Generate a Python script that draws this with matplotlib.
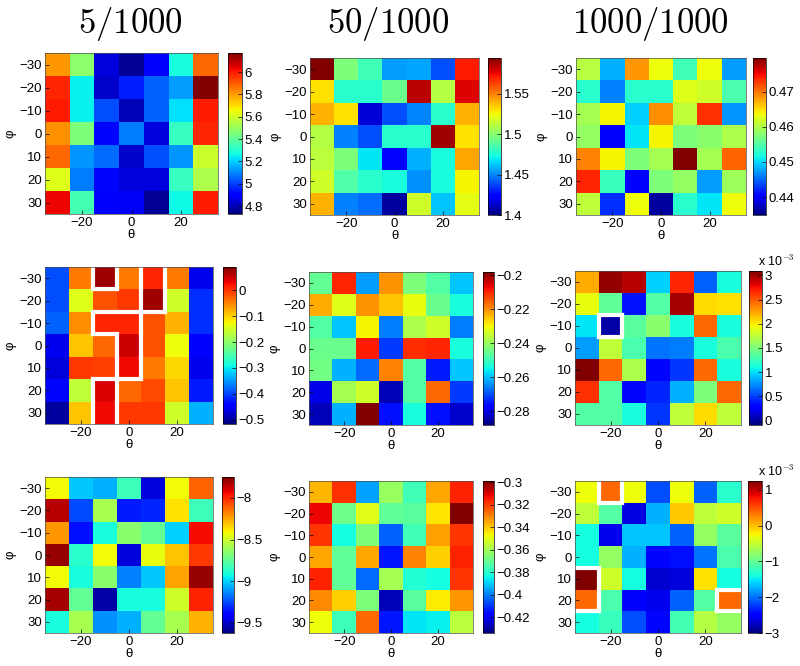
import numpy as np
import matplotlib
matplotlib.use("Agg")
import matplotlib.pyplot as plt

plt.rcParams['font.family'] = ['Liberation Sans', 'DejaVu Sans']
plt.rcParams['mathtext.fontset'] = 'cm'

# grid of angles (cell centres)
theta = [-30, -20, -10, 0, 10, 20, 30]
phi = [-30, -20, -10, 0, 10, 20, 30]
col_titles = ["5/1000", "50/1000", "1000/1000"]

# values, rows = phi (top -30), cols = theta
p1 = [[5.81, 5.48, 4.85, 4.76, 4.90, 5.28, 5.88],
      [5.98, 5.25, 4.83, 4.95, 5.05, 5.13, 6.17],
      [6.00, 5.25, 5.02, 4.80, 5.05, 5.23, 6.00],
      [5.82, 5.45, 4.92, 5.09, 4.85, 5.33, 5.98],
      [5.88, 5.12, 5.06, 4.83, 5.02, 5.12, 5.59],
      [5.62, 5.09, 4.92, 4.85, 4.85, 5.33, 5.54],
      [6.03, 5.35, 4.90, 4.88, 4.76, 5.26, 6.00]]
p2 = [[1.594, 1.497, 1.483, 1.454, 1.456, 1.439, 1.571],
      [1.530, 1.478, 1.478, 1.493, 1.584, 1.510, 1.578],
      [1.540, 1.530, 1.415, 1.439, 1.450, 1.478, 1.540],
      [1.510, 1.449, 1.439, 1.478, 1.478, 1.588, 1.530],
      [1.512, 1.497, 1.468, 1.425, 1.458, 1.474, 1.542],
      [1.516, 1.487, 1.478, 1.474, 1.452, 1.474, 1.526],
      [1.540, 1.449, 1.445, 1.406, 1.516, 1.462, 1.522]]
p3 = [[0.4604, 0.4483, 0.4684, 0.4635, 0.4541, 0.4635, 0.4474],
      [0.4528, 0.4461, 0.4528, 0.4528, 0.4626, 0.4617, 0.4546],
      [0.4595, 0.4640, 0.4496, 0.4689, 0.4608, 0.4733, 0.4470],
      [0.4586, 0.4403, 0.4505, 0.4640, 0.4573, 0.4581, 0.4599],
      [0.4693, 0.4640, 0.4573, 0.4595, 0.4796, 0.4595, 0.4707],
      [0.4738, 0.4537, 0.4403, 0.4573, 0.4586, 0.4474, 0.4590],
      [0.4608, 0.4425, 0.4635, 0.4362, 0.4528, 0.4505, 0.4635]]
p4 = [[-0.396, -0.044, 0.072, -0.044, 0.011, -0.044, -0.456],
      [-0.396, -0.141, -0.019, -0.001, 0.072, -0.153, -0.414],
      [-0.383, -0.056, 0.011, 0.011, -0.019, -0.080, -0.414],
      [-0.456, -0.092, -0.031, 0.048, -0.019, -0.129, -0.444],
      [-0.468, -0.001, -0.007, 0.029, -0.044, -0.104, -0.456],
      [-0.438, -0.165, 0.041, -0.031, -0.013, -0.092, -0.426],
      [-0.499, -0.092, 0.029, -0.001, -0.001, -0.153, -0.335]]
p5 = [[-0.2457, -0.2097, -0.2628, -0.2205, -0.2430, -0.2475, -0.2592],
      [-0.2223, -0.2322, -0.2205, -0.2250, -0.2313, -0.2448, -0.2538],
      [-0.2475, -0.2592, -0.2295, -0.2655, -0.2376, -0.2340, -0.2655],
      [-0.2448, -0.2448, -0.2088, -0.2718, -0.2106, -0.2097, -0.2538],
      [-0.2439, -0.2610, -0.2673, -0.2187, -0.2475, -0.2745, -0.2592],
      [-0.2799, -0.2385, -0.2340, -0.2835, -0.2475, -0.2160, -0.2718],
      [-0.2835, -0.2610, -0.1980, -0.2754, -0.2538, -0.2754, -0.2817]]
# in units of 1e-3
p6 = [[2.23, 3.03, 2.93, 0.96, 2.68, 0.61, 1.12],
      [1.91, 1.40, 0.36, 1.34, 2.99, 2.07, 2.04],
      [1.02, 0.01, 1.37, 1.56, 1.12, 2.45, 1.12],
      [0.80, 1.75, 1.31, 0.67, 0.70, 1.12, 1.31],
      [3.09, 2.45, 1.69, 0.32, 0.48, 2.45, 1.12],
      [2.64, 1.34, 0.32, 0.42, 0.86, 1.50, 2.45],
      [1.34, 1.34, 1.12, 0.48, 1.75, 2.07, 1.75]]
p7 = [[-8.42, -9.02, -9.06, -8.83, -9.47, -8.42, -8.12],
      [-7.84, -9.25, -8.59, -9.34, -9.32, -8.37, -8.83],
      [-8.22, -9.36, -8.91, -8.65, -8.74, -9.00, -7.94],
      [-7.79, -8.87, -8.42, -9.47, -8.44, -8.31, -8.03],
      [-8.42, -8.91, -8.65, -9.15, -9.02, -8.24, -7.79],
      [-7.81, -8.74, -9.56, -8.91, -8.91, -8.50, -7.99],
      [-8.91, -8.59, -9.12, -9.06, -8.74, -8.59, -8.27]]
p8 = [[-0.337, -0.318, -0.396, -0.362, -0.376, -0.335, -0.316],
      [-0.312, -0.369, -0.350, -0.371, -0.372, -0.344, -0.299],
      [-0.319, -0.383, -0.366, -0.404, -0.376, -0.334, -0.319],
      [-0.335, -0.371, -0.335, -0.414, -0.330, -0.341, -0.316],
      [-0.316, -0.371, -0.403, -0.360, -0.381, -0.383, -0.319],
      [-0.331, -0.341, -0.366, -0.427, -0.372, -0.345, -0.333],
      [-0.348, -0.377, -0.326, -0.414, -0.387, -0.385, -0.356]]
# in units of 1e-3
p9 = [[-0.28, 0.40, -0.28, -2.15, -0.28, -2.07, -1.30],
      [-0.54, -1.09, -2.62, -1.73, -0.03, -0.54, -0.45],
      [-1.39, -2.58, -1.64, -1.64, -2.07, -0.75, -1.05],
      [-1.39, -0.75, -1.73, -2.45, -2.41, -1.98, -1.13],
      [1.25, -0.45, -1.39, -2.70, -2.66, -0.15, -1.39],
      [0.40, -1.13, -2.49, -2.58, -2.07, -1.09, 0.40],
      [-1.39, -1.22, -2.15, -2.45, -1.17, -0.58, -0.75]]

clims = [(4.73, 6.17), (1.40, 1.594), (0.4349, 0.4796),
         (-0.517, 0.09), (-0.288, -0.198), (-0.09, 3.09),
         (-9.62, -7.75), (-0.434, -0.299), (-3.0, 1.25)]
cticks = [[4.8, 5, 5.2, 5.4, 5.6, 5.8, 6],
          [1.4, 1.45, 1.5, 1.55],
          [0.44, 0.45, 0.46, 0.47],
          [-0.5, -0.4, -0.3, -0.2, -0.1, 0],
          [-0.28, -0.26, -0.24, -0.22, -0.2],
          [0, 0.5, 1, 1.5, 2, 2.5, 3],
          [-9.5, -9, -8.5, -8],
          [-0.42, -0.4, -0.38, -0.36, -0.34, -0.32, -0.3],
          [-3, -2, -1, 0, 1]]
scaled = [False, False, False, False, False, True, False, False, True]

# highlighted cells (row, col)
masks = {3: [(0, 2), (0, 4), (1, 4), (2, 2), (2, 3), (3, 3), (4, 3), (5, 2), (6, 2)],
         5: [(2, 1)],
         8: [(0, 1), (4, 0), (5, 0), (5, 6)]}

panels = [p1, p2, p3, p4, p5, p6, p7, p8, p9]

# pixel boxes: axes (l, t, r, b) and colorbar (l, r)
ax_px = [(45, 53, 218, 214), (310, 58, 479, 215), (576, 58, 746, 215),
         (45, 267, 213, 424), (309, 272, 473, 425), (575, 271, 741, 425),
         (45, 477, 213, 633), (309, 481, 473, 633), (575, 481, 741, 633)]
cb_px = [(228, 242), (488, 501), (753, 766),
         (223, 236), (483, 494), (749, 762),
         (222, 234), (483, 494), (748, 762)]

W, H = 800, 666


def box(l, t, r, b):
    return [l / W, 1 - b / H, (r - l) / W, (b - t) / H]


fig = plt.figure(figsize=(8, 6.66), dpi=100)

edges = np.arange(-35, 36, 10)
fs = 9.5

for i, data in enumerate(panels):
    l, t, r, b = ax_px[i]
    ax = fig.add_axes(box(l, t, r, b))
    z = np.array(data)
    vmin, vmax = clims[i]
    mesh = ax.pcolormesh(edges, edges, z, cmap='jet', vmin=vmin, vmax=vmax)
    ax.set_xlim(-35, 35)
    ax.set_ylim(35, -35)
    ax.set_xticks([-20, 0, 20])
    ax.set_yticks(phi)
    ax.tick_params(direction='in', length=3, width=0.5, labelsize=fs, pad=2)
    for s in ax.spines.values():
        s.set_linewidth(0.5)
        s.set_color('0.3')
    ax.set_xlabel('θ', fontsize=fs, labelpad=0)
    ax.set_ylabel('φ', fontsize=fs, labelpad=2)

    if i in masks:
        m = np.zeros_like(z, dtype=bool)
        for rr, cc in masks[i]:
            m[rr, cc] = True
        kw = dict(color='white', lw=3, solid_capstyle='projecting')
        n = m.shape[0]
        for rr in range(n):
            for cc in range(n):
                if cc < n - 1 and m[rr, cc] != m[rr, cc + 1]:
                    ax.plot([edges[cc + 1]] * 2, [edges[rr], edges[rr + 1]], **kw)
                if rr < n - 1 and m[rr, cc] != m[rr + 1, cc]:
                    ax.plot([edges[cc], edges[cc + 1]], [edges[rr + 1]] * 2, **kw)

    cl, cr = cb_px[i]
    cax = fig.add_axes(box(cl, t, cr, b))
    cb = fig.colorbar(mesh, cax=cax)
    cb.set_ticks(cticks[i])
    cb.set_ticklabels([('%g' % v).replace('-', '\u2212') for v in cticks[i]])
    cb.outline.set_linewidth(0.5)
    cax.tick_params(direction='in', length=3, width=0.5, labelsize=fs, pad=2)
    if scaled[i]:
        fig.text(758 / W, 1 - (t - 2) / H, r'x 10$^{-3}$',
                 fontsize=9, ha='left', va='bottom')

for j, txt in enumerate(col_titles):
    x = [130, 388, 650][j]
    fig.text(x / W, 1 - 24 / H, '$' + txt + '$', fontsize=25,
             ha='center', va='center')

fig.savefig('out.png', dpi=100)
